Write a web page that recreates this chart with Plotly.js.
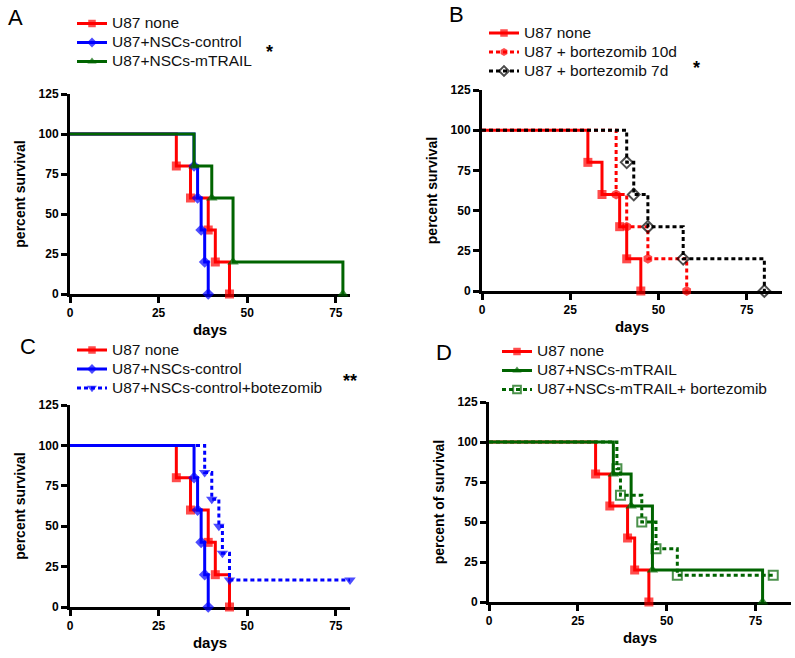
<!DOCTYPE html>
<html>
<head>
<meta charset="utf-8">
<script src="https://cdn.plot.ly/plotly-3.0.1.min.js"></script>
<style>html,body{margin:0;padding:0;background:#fff;}#chart{width:795px;height:658px;}</style>
</head>
<body>
<div id="chart"></div>
<script>
// ---------- DATA (days, percent survival) ----------
const noneDays      = [0, 30, 34, 39, 41, 45];
const noneSurv      = [100, 80, 60, 40, 20, 0];
const ctrlDays      = [0, 35, 36, 37, 38, 39];
const ctrlSurv      = [100, 80, 60, 40, 20, 0];
const trailDays     = [0, 35, 40, 46, 77];
const trailSurv     = [100, 80, 60, 20, 0];
const btz10Days     = [0, 38, 41, 47, 58];
const btz10Surv     = [100, 60, 40, 20, 0];
const btz7Days      = [0, 41, 43, 47, 57, 80];
const btz7Surv      = [100, 80, 60, 40, 20, 0];
const ctrlBtzDays   = [0, 38, 40, 42, 43, 45, 79];
const ctrlBtzSurv   = [100, 83.3, 66.7, 50, 33.3, 16.7, 16.7];
const trailBtzDays  = [0, 36, 37, 43, 47, 53, 80];
const trailBtzSurv  = [100, 83.3, 66.7, 50, 33.3, 16.7, 16.7];

const xTicks = [0, 25, 50, 75];
const yTicks = [0, 25, 50, 75, 100, 125];

const names = {
  none: 'U87 none',
  ctrl: 'U87+NSCs-control',
  trail: 'U87+NSCs-mTRAIL',
  btz10: 'U87 + bortezomib 10d',
  btz7: 'U87 + bortezomib 7d',
  ctrlBtz: 'U87+NSCs-control+botezomib',
  trailBtz: 'U87+NSCs-mTRAIL+ bortezomib'
};

// ---------- STYLE ----------
const RED = 'rgb(255,0,0)', BLUE = 'rgb(0,0,255)', GREEN = 'rgb(0,100,0)', BLACK = 'rgb(0,0,0)';
const FONT = 'Arial, "Liberation Sans", sans-serif';
const W = 795, H = 658;

function km(days, surv, o) {
  return {
    x: days, y: surv, type: 'scatter', mode: 'lines+markers',
    name: '<span style="font-size:15.5px">' + o.name + '</span>',
    xaxis: o.xa, yaxis: o.ya, legend: o.legend, cliponaxis: false,
    line: {shape: 'hv', color: o.color, width: 3, dash: o.dash || 'solid'},
    marker: {
      symbol: o.symbol, color: o.color,
      size: days.map((d, i) => i === 0 ? 0 : o.size),
      line: {color: o.color, width: o.mlw || 0}
    }
  };
}

const dashS = '4px,3px';
const traces = [
  // A
  km(noneDays, noneSurv, {name: names.none, xa: 'x', ya: 'y', legend: 'legend', color: RED, symbol: 'square', size: 9}),
  km(ctrlDays, ctrlSurv, {name: names.ctrl, xa: 'x', ya: 'y', legend: 'legend', color: BLUE, symbol: 'diamond', size: 9}),
  km(trailDays, trailSurv, {name: names.trail, xa: 'x', ya: 'y', legend: 'legend', color: GREEN, symbol: 'triangle-up', size: 10}),
  // B
  km(noneDays, noneSurv, {name: names.none, xa: 'x2', ya: 'y2', legend: 'legend2', color: RED, symbol: 'square', size: 9}),
  km(btz10Days, btz10Surv, {name: names.btz10, xa: 'x2', ya: 'y2', legend: 'legend2', color: RED, symbol: 'hexagon', size: 10, dash: dashS}),
  km(btz7Days, btz7Surv, {name: names.btz7, xa: 'x2', ya: 'y2', legend: 'legend2', color: BLACK, symbol: 'diamond-open', size: 9, mlw: 2, dash: dashS}),
  // C
  km(noneDays, noneSurv, {name: names.none, xa: 'x3', ya: 'y3', legend: 'legend3', color: RED, symbol: 'square', size: 9}),
  km(ctrlDays, ctrlSurv, {name: names.ctrl, xa: 'x3', ya: 'y3', legend: 'legend3', color: BLUE, symbol: 'diamond', size: 9}),
  km(ctrlBtzDays, ctrlBtzSurv, {name: names.ctrlBtz, xa: 'x3', ya: 'y3', legend: 'legend3', color: BLUE, symbol: 'triangle-down', size: 10, dash: dashS}),
  // D
  km(noneDays, noneSurv, {name: names.none, xa: 'x4', ya: 'y4', legend: 'legend4', color: RED, symbol: 'square', size: 9}),
  km(trailDays, trailSurv, {name: names.trail, xa: 'x4', ya: 'y4', legend: 'legend4', color: GREEN, symbol: 'triangle-up', size: 10}),
  km(trailBtzDays, trailBtzSurv, {name: names.trailBtz, xa: 'x4', ya: 'y4', legend: 'legend4', color: GREEN, symbol: 'square-open', size: 9, mlw: 2, dash: dashS})
];

function px2x(p) { return p / W; }
function px2y(p) { return 1 - p / H; }

function xAxis(l, r, maxX, anchor) {
  return {
    domain: [px2x(l), px2x(r)], range: [0, maxX], anchor: anchor,
    showline: true, linewidth: 3, linecolor: BLACK, layer: 'below traces',
    ticks: 'outside', ticklen: 6, tickwidth: 3, tickcolor: BLACK,
    tickvals: xTicks, showgrid: false, zeroline: false,
    tickfont: {family: FONT, size: 12, weight: 700, color: BLACK},
    title: {text: 'days', font: {family: FONT, size: 15, weight: 700, color: BLACK}, standoff: 6}
  };
}
function yAxis(top, bottom, anchor, title) {
  return {
    domain: [px2y(bottom), px2y(top)], range: [0, 125], anchor: anchor,
    showline: true, linewidth: 3, linecolor: BLACK, layer: 'below traces',
    ticks: 'outside', ticklen: 6, tickwidth: 3, tickcolor: BLACK,
    tickvals: yTicks, showgrid: false, zeroline: false,
    tickfont: {family: FONT, size: 12, weight: 700, color: BLACK},
    title: {text: title, font: {family: FONT, size: 14, weight: 700, color: BLACK}, standoff: 10}
  };
}
function leg(xp, yp) {
  return {
    x: px2x(xp), y: px2y(yp), xanchor: 'left', yanchor: 'top',
    bgcolor: 'rgba(0,0,0,0)', borderwidth: 0, itemwidth: 30, tracegroupgap: 0,
    font: {family: FONT, size: 12, color: '#111'}, traceorder: 'normal'
  };
}
function ann(text, xp, yp, size, bold) {
  return {text: text, x: px2x(xp), y: px2y(yp), xref: 'paper', yref: 'paper', showarrow: false,
    xanchor: 'center', yanchor: 'middle', font: {family: FONT, size: size, color: BLACK, weight: bold ? 700 : 400}};
}

const layout = {
  width: W, height: H, margin: {l: 0, r: 0, t: 0, b: 0},
  paper_bgcolor: '#fff', plot_bgcolor: '#fff', showlegend: true,
  xaxis: xAxis(70, 350, 79, 'y'),
  yaxis: yAxis(94, 294, 'x', 'percent survival'),
  xaxis2: xAxis(482, 782, 85, 'y2'),
  yaxis2: yAxis(90, 291, 'x2', 'percent survival'),
  xaxis3: xAxis(70, 350, 79, 'y3'),
  yaxis3: yAxis(405, 607, 'x3', 'percent survival'),
  xaxis4: xAxis(489, 791, 85, 'y4'),
  yaxis4: yAxis(402, 602, 'x4', 'percent of survival'),
  legend: leg(72, 9),
  legend2: leg(484, 18.5),
  legend3: leg(72, 335.5),
  legend4: leg(497, 337),
  annotations: [
    ann('A', 15, 18, 22, false),
    ann('B', 456, 14, 22, false),
    ann('C', 28, 346, 22, false),
    ann('D', 444, 352, 22, false),
    ann('*', 269, 52, 18, true),
    ann('*', 696, 68, 18, true),
    ann('**', 350, 381, 18, true)
  ]
};

Plotly.newPlot('chart', traces, layout, {staticPlot: true, displayModeBar: false});
</script>
</body>
</html>
